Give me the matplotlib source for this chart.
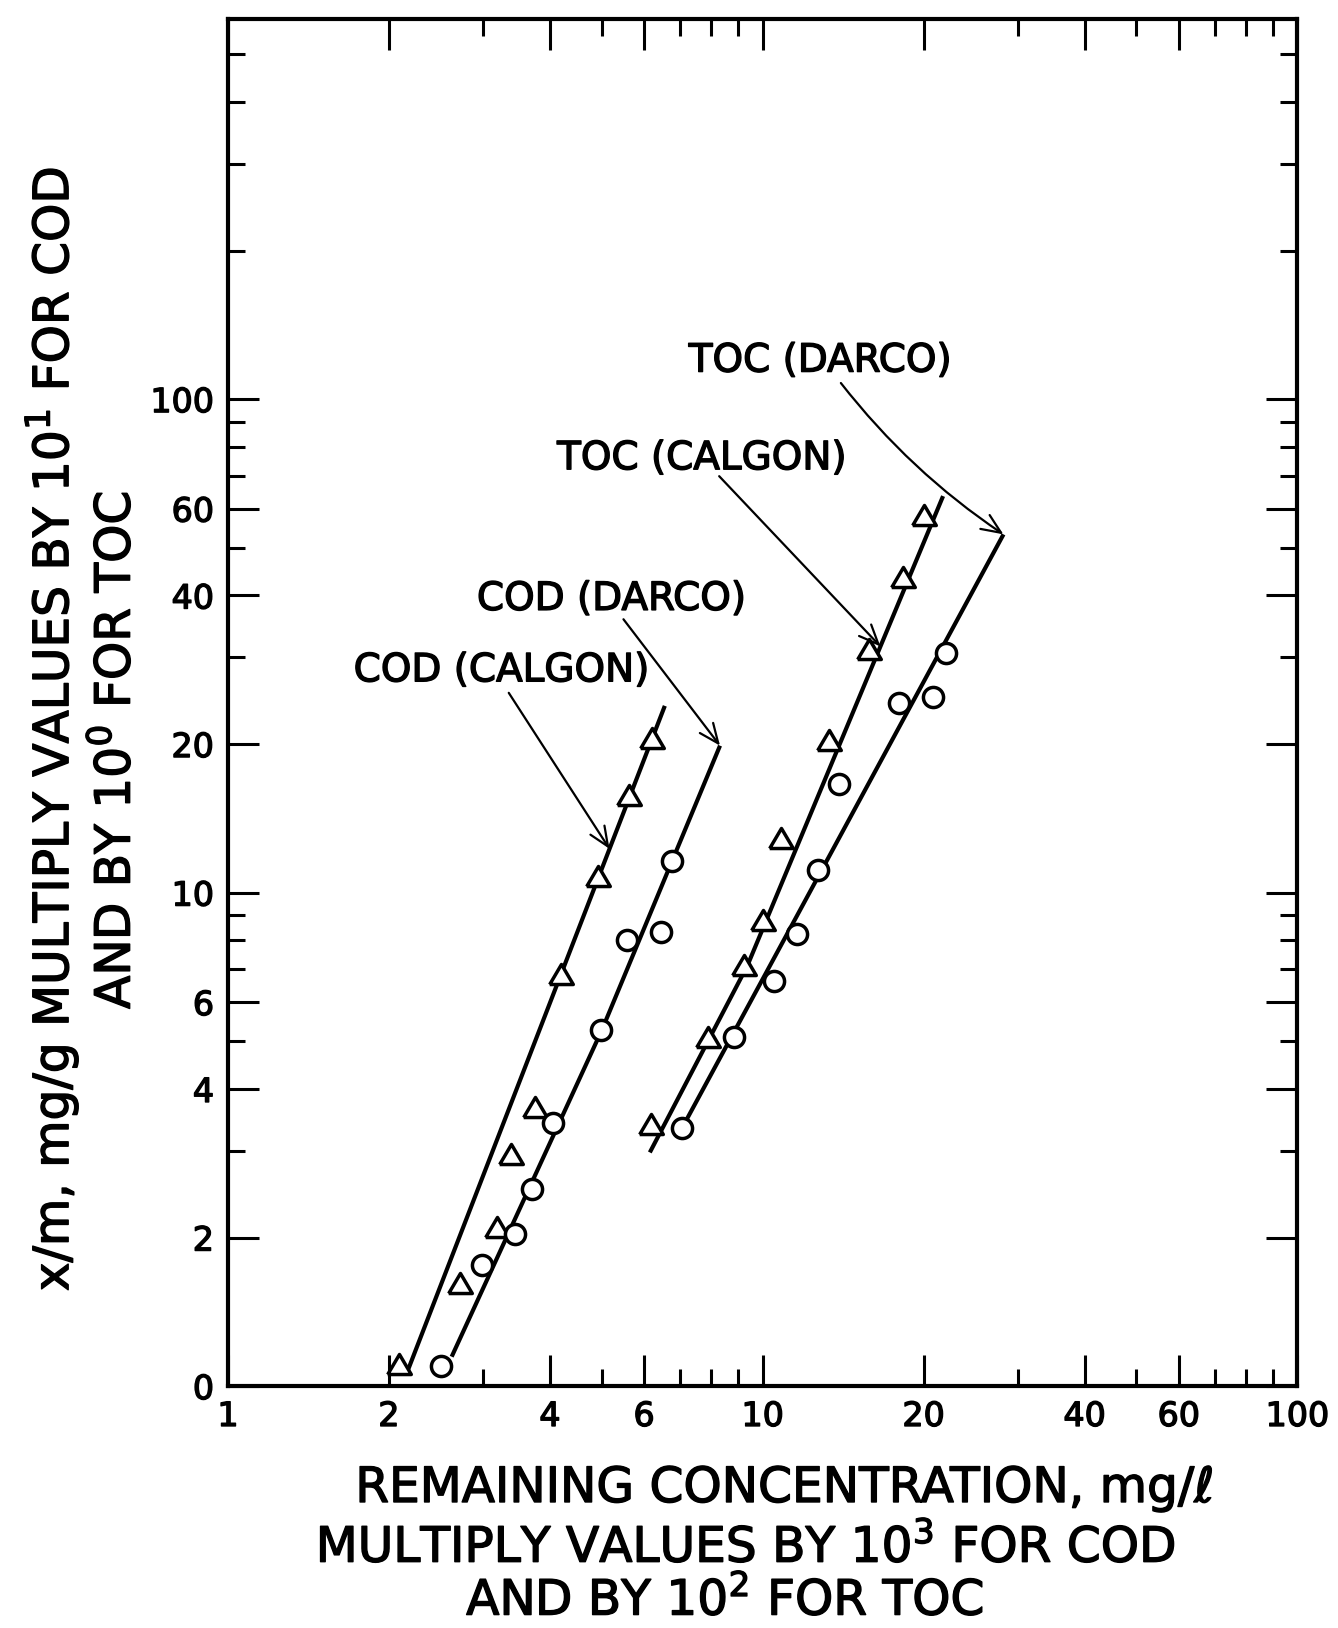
import numpy as np
import matplotlib
matplotlib.use("Agg")
import matplotlib.pyplot as plt
import matplotlib.patheffects as pe
from matplotlib.ticker import FixedLocator, FixedFormatter, NullFormatter

plt.rcParams['font.family'] = ['DejaVu Sans']
plt.rcParams['mathtext.fontset'] = 'dejavusans'

# ---- Isotherm data: remaining concentration (x) vs x/m (y) ----
# COD, Calgon carbon (triangles)
cod_calgon_x = [2.09, 2.72, 3.19, 3.38, 3.75, 4.19, 4.93, 5.63, 6.22]
cod_calgon_y = [1.11, 1.62, 2.10, 2.96, 3.68, 6.85, 10.8, 15.8, 20.6]
# COD, Darco carbon (circles)
cod_darco_x = [2.50, 2.98, 3.44, 3.70, 4.06, 4.99, 5.58, 6.45, 6.77]
cod_darco_y = [1.10, 1.76, 2.03, 2.51, 3.42, 5.27, 8.00, 8.32, 11.6]
# TOC, Calgon carbon (triangles)
toc_calgon_x = [6.19, 7.89, 9.23, 10.0, 10.8, 13.3, 15.8, 18.3, 20.0]
toc_calgon_y = [3.39, 5.10, 7.12, 8.81, 12.9, 20.4, 31.1, 43.6, 58.1]
# TOC, Darco carbon (circles)
toc_darco_x = [7.05, 8.82, 10.5, 11.6, 12.7, 13.9, 18.0, 20.8, 22.0]
toc_darco_y = [3.33, 5.10, 6.62, 8.24, 11.1, 16.6, 24.2, 24.9, 30.6]

# Hand-fitted isotherm lines
cod_calgon_fit_x = [2.17, 6.56]
cod_calgon_fit_y = [1.077, 23.9]
cod_darco_fit_x = [2.62, 5.00, 8.32]
cod_darco_fit_y = [1.147, 5.26, 19.85]
toc_calgon_fit_x = [6.15, 9.36, 21.74]
toc_calgon_fit_y = [2.975, 7.11, 63.6]
toc_darco_fit_x = [7.04, 28.2]
toc_darco_fit_y = [3.31, 53.2]

# Axis ticks
x_major = [1, 2, 4, 6, 10, 20, 40, 60, 100]
x_major_labels = ['1', '2', '4', '6', '10', '20', '40', '60', '100']
x_minor = [3, 5, 7, 8, 9, 30, 50, 70, 80, 90]
y_major = [1, 2, 4, 6, 10, 20, 40, 60, 100]
y_major_labels = ['0', '2', '4', '6', '10', '20', '40', '60', '100']
y_minor = [3, 5, 7, 8, 9, 30, 50, 70, 80, 90, 200, 300, 400, 500]

# slightly heavier lettering
ink = [pe.withStroke(linewidth=1.0, foreground='black')]


def on_line(fx, fy, x):
    """Point on a log-log polyline at abscissa x."""
    ly = np.interp(np.log10(x), np.log10(fx), np.log10(fy))
    return (x, 10 ** ly)


fig = plt.figure(figsize=(13.38, 16.28), dpi=100)
ax = fig.add_axes([0.1704, 0.1486, 0.7993, 0.8399])
ax.set_xscale('log')
ax.set_yscale('log')
ax.set_xlim(1, 100)
ax.set_ylim(1, 590)

line_kw = dict(color='black', lw=3.0, solid_capstyle='butt', zorder=2)
ax.plot(cod_calgon_fit_x, cod_calgon_fit_y, **line_kw)
ax.plot(cod_darco_fit_x, cod_darco_fit_y, **line_kw)
ax.plot(toc_calgon_fit_x, toc_calgon_fit_y, **line_kw)
ax.plot(toc_darco_fit_x, toc_darco_fit_y, **line_kw)

tri = [(-1, -0.85), (1, -0.85), (0, 0.85), (-1, -0.85)]
tri_kw = dict(ls='none', marker=tri, ms=17, mfc='white', mec='black',
              mew=2.5, zorder=3, clip_on=False)
circ_kw = dict(ls='none', marker='o', ms=14.5, mfc='white', mec='black',
               mew=2.5, zorder=3, clip_on=False)
ax.plot(cod_calgon_x, cod_calgon_y, **tri_kw)
ax.plot(toc_calgon_x, toc_calgon_y, **tri_kw)
ax.plot(cod_darco_x, cod_darco_y, **circ_kw)
ax.plot(toc_darco_x, toc_darco_y, **circ_kw)

# Curve labels with pointer arrows
labels = [
    ("COD (CALGON)", (3.245, 26.8), (3.35, 25.4),
     on_line(cod_calgon_fit_x, cod_calgon_fit_y, 5.17), 0.0),
    ("COD (DARCO)", (5.21, 37.4), (5.49, 35.8),
     (cod_darco_fit_x[-1], cod_darco_fit_y[-1]), 0.0),
    ("TOC (CALGON)", (7.69, 72.1), (8.29, 69.8),
     on_line(toc_calgon_fit_x, toc_calgon_fit_y, 16.6), 0.0),
    ("TOC (DARCO)", (12.8, 113.7), (14.0, 107.8),
     (toc_darco_fit_x[-1], toc_darco_fit_y[-1]), 0.08),
]
for text, tpos, start, tip, rad in labels:
    ax.text(tpos[0], tpos[1], text, fontsize=28, ha='center', va='baseline',
            path_effects=ink)
    ax.annotate('', xy=tip, xytext=start,
                arrowprops=dict(arrowstyle='->,head_length=0.7,head_width=0.3',
                                lw=1.6, color='black', shrinkA=0, shrinkB=0,
                                mutation_scale=20,
                                connectionstyle=f'arc3,rad={rad}'))

ax.xaxis.set_major_locator(FixedLocator(x_major))
ax.xaxis.set_major_formatter(FixedFormatter(x_major_labels))
ax.xaxis.set_minor_locator(FixedLocator(x_minor))
ax.xaxis.set_minor_formatter(NullFormatter())
ax.yaxis.set_major_locator(FixedLocator(y_major))
ax.yaxis.set_major_formatter(FixedFormatter(y_major_labels))
ax.yaxis.set_minor_locator(FixedLocator(y_minor))
ax.yaxis.set_minor_formatter(NullFormatter())

ax.tick_params(which='both', direction='in', top=True, right=True,
               width=2.2, color='black')
ax.tick_params(which='major', length=22, labelsize=24, pad=10)
ax.tick_params(which='minor', length=12)
for lab in ax.get_xticklabels() + ax.get_yticklabels():
    lab.set_path_effects(ink)
for s in ax.spines.values():
    s.set_linewidth(3)

# Axis titles
title_kw = dict(fontsize=35, path_effects=ink)
fig.text(0.0512, 0.5522, "x/m, mg/g MULTIPLY VALUES BY 10$^1$ FOR COD",
         rotation=90, rotation_mode='anchor', ha='center', va='baseline',
         **title_kw)
fig.text(0.0972, 0.5393, "AND BY 10$^0$ FOR TOC",
         rotation=90, rotation_mode='anchor', ha='center', va='baseline',
         **title_kw)
fig.text(0.5865, 0.0774, "REMAINING CONCENTRATION, mg/\u2113",
         ha='center', va='baseline', **title_kw)
fig.text(0.5574, 0.0405, "MULTIPLY VALUES BY 10$^3$ FOR COD",
         ha='center', va='baseline', **title_kw)
fig.text(0.5419, 0.0080, "AND BY 10$^2$ FOR TOC",
         ha='center', va='baseline', **title_kw)

fig.savefig('out.png', dpi=100, facecolor='white')
